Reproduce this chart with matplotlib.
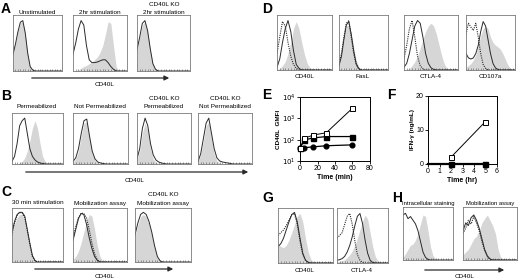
import numpy as np
import matplotlib.pyplot as plt
from matplotlib.patches import FancyArrowPatch

plt.rcParams["font.family"] = ["Liberation Sans", "DejaVu Sans"]

W, H = 520, 280

# histogram channel grid (fraction of the box width)
HX = np.linspace(0, 1, 21)

# --- panel A: CD40L surface staining ---
A1_grey = [0.35, 0.5, 0.72, 0.86, 0.88, 0.66, 0.3, 0.08, 0.01, 0, 0, 0, 0, 0, 0, 0, 0, 0, 0, 0, 0]
A1_line = [0.3, 0.48, 0.7, 0.87, 0.9, 0.68, 0.32, 0.08, 0.02, 0, 0, 0, 0, 0, 0, 0, 0, 0, 0, 0, 0]
A2_grey = [0, 0, 0.02, 0.05, 0.08, 0.1, 0.13, 0.16, 0.2, 0.25, 0.33, 0.45, 0.65, 0.88, 0.85, 0.45, 0.08, 0, 0, 0, 0]
A2_line = [0.3, 0.5, 0.75, 0.9, 0.82, 0.45, 0.2, 0.15, 0.15, 0.16, 0.18, 0.2, 0.2, 0.15, 0.08, 0.03, 0, 0, 0, 0, 0]
A3_grey = [0.4, 0.6, 0.82, 0.88, 0.7, 0.38, 0.12, 0.03, 0, 0, 0, 0, 0, 0, 0, 0, 0, 0, 0, 0, 0]
A3_line = [0.38, 0.6, 0.85, 0.9, 0.72, 0.4, 0.13, 0.03, 0, 0, 0, 0, 0, 0, 0, 0, 0, 0, 0, 0, 0]

# --- panel B ---
B1_grey = [0, 0, 0, 0.02, 0.05, 0.12, 0.25, 0.45, 0.7, 0.85, 0.7, 0.4, 0.15, 0.05, 0.01, 0, 0, 0, 0, 0, 0]
B1_line = [0.05, 0.15, 0.4, 0.75, 0.85, 0.9, 0.6, 0.3, 0.15, 0.08, 0.04, 0.02, 0.01, 0, 0, 0, 0, 0, 0, 0, 0]
B2_grey = [0.03, 0.1, 0.25, 0.55, 0.8, 0.82, 0.5, 0.2, 0.07, 0.02, 0, 0, 0, 0, 0, 0, 0, 0, 0, 0, 0]
B2_line = [0.05, 0.12, 0.3, 0.6, 0.85, 0.88, 0.55, 0.25, 0.1, 0.04, 0.02, 0.01, 0, 0, 0, 0, 0, 0, 0, 0, 0]
B3_grey = [0.08, 0.25, 0.6, 0.8, 0.65, 0.3, 0.1, 0.03, 0.01, 0, 0, 0, 0, 0, 0, 0, 0, 0, 0, 0, 0]
B3_line = [0.1, 0.3, 0.7, 0.9, 0.75, 0.4, 0.18, 0.08, 0.04, 0.02, 0.01, 0, 0, 0, 0, 0, 0, 0, 0, 0, 0]
B4_grey = [0.05, 0.18, 0.45, 0.75, 0.82, 0.5, 0.2, 0.06, 0.02, 0, 0, 0, 0, 0, 0, 0, 0, 0, 0, 0, 0]
B4_line = [0.05, 0.2, 0.5, 0.8, 0.9, 0.6, 0.3, 0.12, 0.06, 0.04, 0.03, 0.02, 0.01, 0, 0, 0, 0, 0, 0, 0, 0]

# --- panel C ---
C1_grey = [0.5, 0.7, 0.82, 0.88, 0.88, 0.75, 0.5, 0.25, 0.08, 0.02, 0, 0, 0, 0, 0, 0, 0, 0, 0, 0, 0]
C1_line = [0.55, 0.75, 0.88, 0.92, 0.92, 0.85, 0.6, 0.35, 0.12, 0.03, 0, 0, 0, 0, 0, 0, 0, 0, 0, 0, 0]
C1_dot = [0.5, 0.72, 0.86, 0.92, 0.9, 0.82, 0.58, 0.32, 0.1, 0.02, 0, 0, 0, 0, 0, 0, 0, 0, 0, 0, 0]
C2_grey = [0.05, 0.1, 0.2, 0.35, 0.55, 0.75, 0.88, 0.85, 0.6, 0.3, 0.1, 0.02, 0, 0, 0, 0, 0, 0, 0, 0, 0]
C2_line = [0.4, 0.6, 0.8, 0.9, 0.88, 0.7, 0.45, 0.25, 0.1, 0.03, 0, 0, 0, 0, 0, 0, 0, 0, 0, 0, 0]
C2_dot = [0.45, 0.65, 0.82, 0.9, 0.9, 0.82, 0.6, 0.35, 0.15, 0.04, 0, 0, 0, 0, 0, 0, 0, 0, 0, 0, 0]
C3_grey = [0.48, 0.68, 0.84, 0.88, 0.84, 0.7, 0.5, 0.26, 0.08, 0.02, 0, 0, 0, 0, 0, 0, 0, 0, 0, 0, 0]
C3_line = [0.5, 0.72, 0.88, 0.92, 0.88, 0.75, 0.55, 0.3, 0.1, 0.02, 0, 0, 0, 0, 0, 0, 0, 0, 0, 0, 0]

# --- panel D ---
D1_grey = [0, 0.03, 0.08, 0.15, 0.3, 0.5, 0.75, 0.88, 0.75, 0.5, 0.28, 0.12, 0.04, 0.01, 0, 0, 0, 0, 0, 0, 0]
D1_line = [0.05, 0.2, 0.5, 0.75, 0.9, 0.7, 0.35, 0.1, 0.03, 0, 0, 0, 0, 0, 0, 0, 0, 0, 0, 0, 0]
D1_dot = [0.3, 0.6, 0.88, 0.8, 0.5, 0.25, 0.1, 0.03, 0, 0, 0, 0, 0, 0, 0, 0, 0, 0, 0, 0, 0]
D2_grey = [0.1, 0.3, 0.55, 0.8, 0.82, 0.65, 0.4, 0.18, 0.06, 0.01, 0, 0, 0, 0, 0, 0, 0, 0, 0, 0, 0]
D2_line = [0.08, 0.25, 0.55, 0.82, 0.88, 0.65, 0.35, 0.12, 0.03, 0, 0, 0, 0, 0, 0, 0, 0, 0, 0, 0, 0]
D2_dot = [0.1, 0.3, 0.6, 0.85, 0.9, 0.6, 0.3, 0.1, 0.02, 0, 0, 0, 0, 0, 0, 0, 0, 0, 0, 0, 0]
D3_grey = [0, 0, 0.03, 0.08, 0.15, 0.25, 0.4, 0.55, 0.7, 0.8, 0.85, 0.8, 0.65, 0.45, 0.25, 0.1, 0.03, 0, 0, 0, 0]
D3_line = [0.05, 0.12, 0.3, 0.55, 0.8, 0.9, 0.85, 0.6, 0.3, 0.12, 0.04, 0.01, 0, 0, 0, 0, 0, 0, 0, 0, 0]
D3_dot = [0.2, 0.45, 0.75, 0.9, 0.6, 0.25, 0.08, 0.02, 0, 0, 0, 0, 0, 0, 0, 0, 0, 0, 0, 0, 0]
D4_grey = [0.05, 0.08, 0.12, 0.18, 0.28, 0.45, 0.62, 0.75, 0.8, 0.75, 0.6, 0.5, 0.45, 0.42, 0.38, 0.3, 0.2, 0.1, 0.03, 0, 0]
D4_line = [0.3, 0.22, 0.2, 0.22, 0.3, 0.45, 0.7, 0.88, 0.8, 0.55, 0.3, 0.12, 0.04, 0.01, 0, 0, 0, 0, 0, 0, 0]
D4_dot = [0.65, 0.85, 0.78, 0.72, 0.85, 0.6, 0.3, 0.1, 0.03, 0, 0, 0, 0, 0, 0, 0, 0, 0, 0, 0, 0]

# --- panel E: CD40L GMFI over time ---
E_time = [0, 5, 15, 30, 60]
E_open_sq = [40, 115, 165, 210, 3000]
E_filled_sq = [40, 98, 120, 140, 140]
E_filled_circ = [40, 42, 46, 52, 57]

# --- panel F: IFN-gamma ---
F_time_open = [2, 5]
F_open_sq = [2, 12.5]
F_time_filled = [0, 2, 5]
F_filled_sq = [0, 0, 0]

# --- panel G ---
G1_grey = [0.35, 0.3, 0.28, 0.32, 0.42, 0.55, 0.7, 0.85, 0.9, 0.75, 0.45, 0.2, 0.06, 0.02, 0, 0, 0, 0, 0, 0, 0]
G1_line = [0.3, 0.35, 0.45, 0.6, 0.75, 0.88, 0.92, 0.75, 0.45, 0.18, 0.05, 0.01, 0, 0, 0, 0, 0, 0, 0, 0, 0]
G1_dot = [0.5, 0.55, 0.6, 0.68, 0.78, 0.88, 0.9, 0.7, 0.4, 0.15, 0.05, 0.01, 0, 0, 0, 0, 0, 0, 0, 0, 0]
G2_grey = [0.02, 0.03, 0.04, 0.06, 0.1, 0.15, 0.22, 0.32, 0.45, 0.6, 0.75, 0.87, 0.8, 0.55, 0.3, 0.12, 0.04, 0.01, 0, 0, 0]
G2_line = [0.05, 0.06, 0.08, 0.12, 0.2, 0.32, 0.48, 0.68, 0.85, 0.9, 0.72, 0.42, 0.18, 0.05, 0.01, 0, 0, 0, 0, 0, 0]
G2_dot = [0.45, 0.5, 0.55, 0.7, 0.85, 0.9, 0.7, 0.4, 0.15, 0.05, 0.01, 0, 0, 0, 0, 0, 0, 0, 0, 0, 0]

# --- panel H ---
H1_grey = [0.05, 0.12, 0.2, 0.28, 0.3, 0.38, 0.5, 0.68, 0.85, 0.82, 0.55, 0.25, 0.08, 0.02, 0, 0, 0, 0, 0, 0, 0]
H1_line = [0.85, 0.88, 0.78, 0.82, 0.75, 0.68, 0.55, 0.35, 0.15, 0.05, 0.01, 0, 0, 0, 0, 0, 0, 0, 0, 0, 0]
H2_grey = [0.1, 0.15, 0.2, 0.3, 0.4, 0.45, 0.55, 0.7, 0.78, 0.85, 0.75, 0.65, 0.5, 0.2, 0.05, 0.01, 0, 0, 0, 0, 0]
H2_line = [0.55, 0.7, 0.65, 0.8, 0.85, 0.75, 0.6, 0.4, 0.2, 0.08, 0.02, 0, 0, 0, 0, 0, 0, 0, 0, 0, 0]
H2_dot = [0.5, 0.6, 0.75, 0.68, 0.82, 0.7, 0.55, 0.35, 0.18, 0.06, 0.01, 0, 0, 0, 0, 0, 0, 0, 0, 0, 0]

GREY = "#d6d6d6"
DARK = "#2a2a2a"

fig = plt.figure(figsize=(W / 100, H / 100), dpi=100)


def px_axes(x0, y0, x1, y1):
    return fig.add_axes([x0 / W, 1 - y1 / H, (x1 - x0) / W, (y1 - y0) / H])


def fig_text(x, y, s, **kw):
    kw.setdefault("fontsize", 4.6)
    kw.setdefault("ha", "center")
    kw.setdefault("va", "center")
    fig.text(x / W, 1 - y / H, s, **kw)


def letter(x, y, s):
    fig.text(x / W, 1 - y / H, s, fontsize=10, fontweight="bold", ha="left", va="center")


def arrow(x0, x1, y):
    fig.add_artist(FancyArrowPatch((x0 / W, 1 - y / H), (x1 / W, 1 - y / H),
                                   transform=fig.transFigure, arrowstyle="-|>",
                                   mutation_scale=7, lw=0.9, color=DARK))


def hist_box(rect, grey=None, line=None, dot=None):
    ax = px_axes(*rect)
    if grey is not None:
        ax.fill_between(HX, grey, 0, color=GREY, lw=0)
    if dot is not None:
        ax.plot(HX, dot, color=DARK, lw=0.8, ls=(0, (1, 1)))
    if line is not None:
        ax.plot(HX, line, color=DARK, lw=0.7)
    ax.set_xlim(0, 1)
    ax.set_ylim(0, 1)
    ax.set_xticks(np.arange(0.05, 1, 0.05))
    ax.set_xticklabels([])
    ax.set_yticks([])
    ax.tick_params(axis="x", length=1.2, width=0.4, color="#555555", direction="in")
    for sp in ax.spines.values():
        sp.set_linewidth(0.6)
        sp.set_color("#7a7a7a")
    return ax


# panel A
letter(1, 9, "A")
hist_box((13, 15, 62, 71), A1_grey, A1_line)
hist_box((73, 15, 127, 71), A2_grey, A2_line)
hist_box((137, 15, 190, 71), A3_grey, A3_line)
fig_text(37, 12, "Unstimulated")
fig_text(100, 12, "2hr stimulation")
fig_text(164, 5, "CD40L KO")
fig_text(164, 12, "2hr stimulation")
arrow(29, 172, 78)
fig_text(105, 85, "CD40L")

# panel B
letter(1, 96, "B")
hist_box((12, 113, 63, 164), B1_grey, B1_line)
hist_box((73, 113, 128, 164), B2_grey, B2_line)
hist_box((137, 113, 191, 164), B3_grey, B3_line)
hist_box((198, 113, 252, 164), B4_grey, B4_line)
fig_text(37, 106, "Permeabilized")
fig_text(100, 106, "Not Permeabilized")
fig_text(164, 98, "CD40L KO")
fig_text(164, 106, "Permeabilized")
fig_text(225, 98, "CD40L KO")
fig_text(225, 106, "Not Permeabilized")
arrow(23, 251, 172)
fig_text(135, 180, "CD40L")

# panel C
letter(1, 192, "C")
hist_box((12, 208, 63, 262), C1_grey, C1_line, C1_dot)
hist_box((73, 208, 127, 262), C2_grey, C2_line, C2_dot)
hist_box((135, 208, 191, 262), C3_grey, C3_line)
fig_text(38, 203, "30 min stimulation")
fig_text(100, 203, "Mobilization assay")
fig_text(163, 195, "CD40L KO")
fig_text(163, 203, "Mobilization assay")
arrow(32, 176, 269)
fig_text(105, 276, "CD40L")

# panel D
letter(262, 9, "D")
hist_box((277, 15, 332, 70), D1_grey, D1_line, D1_dot)
hist_box((339, 15, 388, 70), D2_grey, D2_line, D2_dot)
hist_box((404, 15, 458, 70), D3_grey, D3_line, D3_dot)
hist_box((466, 15, 515, 70), D4_grey, D4_line, D4_dot)
for x, s in [(305, "CD40L"), (363, "FasL"), (431, "CTLA-4"), (490, "CD107a")]:
    fig_text(x, 77, s)

# panel E
letter(262, 95, "E")
axE = px_axes(300, 97, 370, 161)
axE.plot(E_time, E_open_sq, color="black", lw=0.7, marker="s", ms=3.6,
         mfc="white", mec="black", mew=0.7, zorder=4, clip_on=False)
axE.plot(E_time, E_filled_sq, color="black", lw=0.9, marker="s", ms=3.6, zorder=3, clip_on=False)
axE.plot(E_time, E_filled_circ, color="black", lw=0.9, marker="o", ms=3.4, zorder=3, clip_on=False)
axE.set_yscale("log")
axE.set_ylim(10, 1e4)
axE.set_xlim(0, 80)
axE.set_xticks([0, 20, 40, 60, 80])
axE.set_yticks([10, 100, 1000, 10000])
axE.set_yticklabels(["$10^1$", "$10^2$", "$10^3$", "$10^4$"])
axE.yaxis.set_minor_locator(plt.NullLocator())
axE.set_xlabel("Time (min)", fontsize=5, fontweight="bold", labelpad=1)
axE.set_ylabel("CD40L  GMFI", fontsize=4.6, fontweight="bold", labelpad=1)

# panel F
letter(387, 95, "F")
axF = px_axes(428, 96, 497, 164)
axF.plot(F_time_filled, F_filled_sq, color="black", lw=1.6, zorder=3, clip_on=False)
axF.plot(F_time_filled[1:], F_filled_sq[1:], ls="none", marker="s", ms=3.6,
         color="black", zorder=4, clip_on=False)
axF.plot(F_time_open, F_open_sq, color="black", lw=0.7, marker="s", ms=3.6,
         mfc="white", mec="black", mew=0.7, zorder=4)
axF.set_xlim(0, 6)
axF.set_ylim(0, 20)
axF.set_xticks(range(7))
axF.set_yticks([0, 10, 20])
axF.set_xlabel("Time (hr)", fontsize=5, fontweight="bold", labelpad=1)
axF.set_ylabel("IFN-γ (ng/mL)", fontsize=4.6, fontweight="bold", labelpad=1)

for ax in (axE, axF):
    ax.tick_params(labelsize=5, length=2, width=0.6, pad=1)
    for sp in ax.spines.values():
        sp.set_linewidth(0.7)

# panel G
letter(262, 198, "G")
hist_box((278, 208, 333, 263), G1_grey, G1_line, G1_dot)
hist_box((337, 208, 388, 263), G2_grey, G2_line, G2_dot)
fig_text(305, 271, "CD40L")
fig_text(362, 271, "CTLA-4")

# panel H
letter(392, 198, "H")
hist_box((403, 207, 453, 260), H1_grey, H1_line)
hist_box((463, 207, 517, 260), H2_grey, H2_line, H2_dot)
fig_text(428, 203, "Intracellular staining", fontsize=4.2)
fig_text(490, 203, "Mobilization assay", fontsize=4.2)
arrow(422, 507, 270)
fig_text(465, 277, "CD40L")

fig.savefig("out.png", dpi=100)
